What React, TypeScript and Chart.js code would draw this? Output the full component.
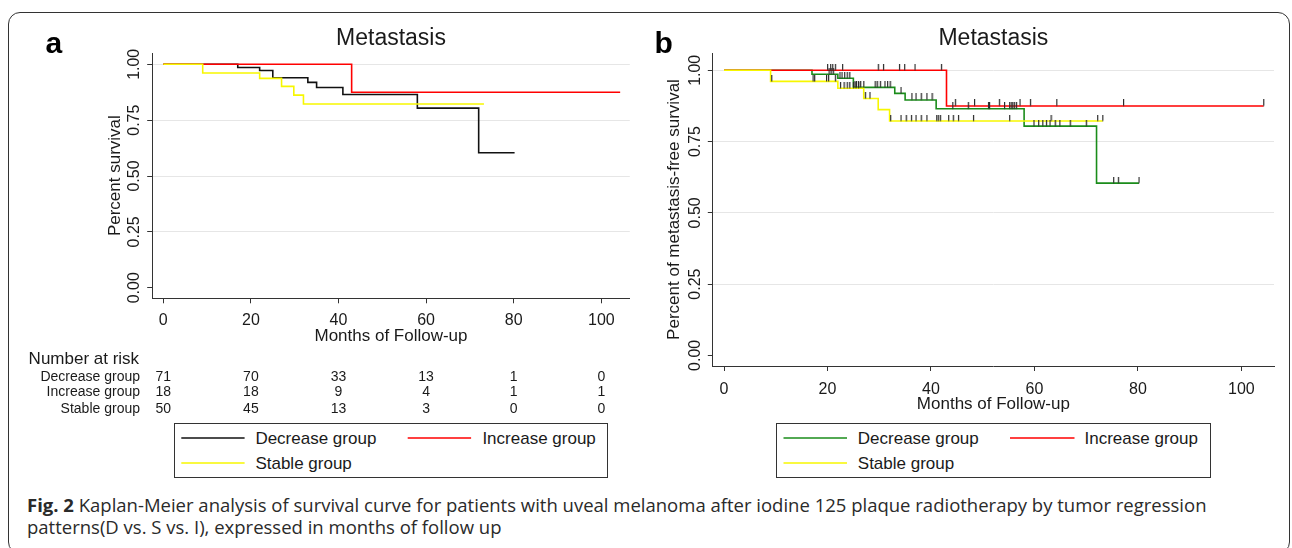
import React, { useEffect, useRef } from "react";
import { Chart, registerables } from "chart.js";

Chart.register(...registerables);

// ---------------- data ----------------
const xTicks = [0, 20, 40, 60, 80, 100];
const yTicks = [0, 0.25, 0.5, 0.75, 1];

const decreaseTimes = [0, 17.0, 22.0, 25.0, 33.0, 35.0, 41.0, 58.0, 72.0, 80.2];
const decreaseSurv = [1, 0.986, 0.972, 0.94, 0.919, 0.896, 0.865, 0.804, 0.604, 0.604];

const increaseTimes = [0, 43.0, 104.3];
const increaseSurv = [1, 0.875, 0.875];

const stableTimes = [0, 9.0, 22.0, 27.0, 29.8, 32.0, 73.2];
const stableSurv = [1, 0.961, 0.937, 0.901, 0.862, 0.822, 0.822];

const decreaseCensored = [20.3, 20.7, 21.1, 22.4, 22.8, 23.3, 23.8, 24.3, 25.3, 25.6, 26.0, 26.4, 27.0, 29.2, 29.6, 30.2, 31.1, 31.6, 32.1, 34.2, 36.3, 37.1, 38.1, 39.2, 40.2, 44.2, 47.2, 51.1, 51.3, 54.2, 55.2, 55.5, 55.8, 56.1, 56.5, 59.9, 60.8, 61.6, 62.3, 63.0, 64.0, 64.9, 66.9, 70.0, 75.3, 76.2, 80.2];
const increaseCensored = [20.0, 20.6, 21.0, 21.5, 22.9, 29.8, 30.8, 33.9, 34.9, 36.9, 42.0, 44.7, 48.4, 53.2, 57.2, 59.2, 64.3, 77.2, 104.3];
const stableCensored = [9.2, 17.2, 17.5, 19.8, 20.2, 21.5, 22.5, 23.2, 23.8, 24.3, 25.0, 25.5, 26.0, 27.3, 28.2, 32.2, 34.2, 35.2, 36.2, 37.1, 38.1, 39.2, 41.1, 41.4, 41.8, 43.4, 44.3, 45.3, 48.2, 55.2, 63.2, 72.2, 73.2];

const riskTimes = [0, 20, 40, 60, 80, 100];
const riskDecrease = [71, 70, 33, 13, 1, 0];
const riskIncrease = [18, 18, 9, 4, 1, 1];
const riskStable = [50, 45, 13, 3, 0, 0];

const groupNames = ["Decrease group", "Increase group", "Stable group"];

// ---------------- styles ----------------
const FONT = "'Liberation Sans', Arial, Helvetica, sans-serif";
const TEXT = "#1a1a1a";
const AXIS = "#333333";
const GRID = "#e6e6e6";
const RED = "#ff0000";
const YELLOW = "#f7f700";
const BLACK = "#111111";
const GREEN = "#1a8c1a";

function stepValue(times: number[], surv: number[], t: number) {
  let s = surv[0];
  for (let i = 0; i < times.length; i++) if (times[i] <= t) s = surv[i];
  return s;
}

function lineDs(times: number[], surv: number[], color: string) {
  return {
    data: times.map((t, i) => ({ x: t, y: surv[i] })),
    borderColor: color,
    borderWidth: 1.6,
    pointRadius: 0,
    pointHoverRadius: 0,
    stepped: "before",
    fill: false,
    tension: 0,
  };
}

function censorDs(cens: number[], times: number[], surv: number[], img: any) {
  return {
    data: cens.map((t) => ({ x: t, y: stepValue(times, surv, t) })),
    showLine: false,
    pointStyle: img,
    pointRadius: 3,
    pointHoverRadius: 3,
    borderColor: "#333",
    backgroundColor: "#333",
  };
}

type PanelCfg = {
  padLeft: number;
  padRight: number;
  padTop: number;
  padBottom: number;
  titlePadBottom: number;
  yWidth: number;
  xHeight: number;
  xMin: number;
  xMax: number;
  yMin: number;
  yMax: number;
  yTitle: string;
  xTickPad: number;
  yTickPad: number;
};

function makeOptions(p: PanelCfg) {
  return {
    responsive: false,
    animation: false,
    events: [],
    layout: { padding: { left: p.padLeft, right: p.padRight, top: p.padTop, bottom: p.padBottom } },
    plugins: {
      legend: { display: false },
      tooltip: { enabled: false },
      title: {
        display: true,
        text: "Metastasis",
        fullSize: false,
        color: TEXT,
        font: { family: FONT, size: 23, weight: "normal", lineHeight: 1.2 },
        padding: { top: 0, bottom: p.titlePadBottom },
      },
    },
    scales: {
      x: {
        type: "linear",
        min: p.xMin,
        max: p.xMax,
        afterBuildTicks: (s: any) => {
          s.ticks = xTicks.map((v) => ({ value: v }));
        },
        afterFit: (s: any) => {
          s.height = p.xHeight;
        },
        grid: { drawOnChartArea: false, drawTicks: true, tickLength: 5, tickColor: AXIS, tickWidth: 1 },
        border: { display: true, color: AXIS, width: 1 },
        ticks: {
          autoSkip: false,
          maxRotation: 0,
          minRotation: 0,
          padding: p.xTickPad,
          color: TEXT,
          font: { family: FONT, size: 16 },
          callback: (v: any) => String(v),
        },
        title: {
          display: true,
          text: "Months of Follow-up",
          color: TEXT,
          font: { family: FONT, size: 17, lineHeight: 1.2 },
          padding: 0,
        },
      },
      y: {
        type: "linear",
        min: p.yMin,
        max: p.yMax,
        afterBuildTicks: (s: any) => {
          s.ticks = yTicks.map((v) => ({ value: v }));
        },
        afterFit: (s: any) => {
          s.width = p.yWidth;
        },
        grid: {
          drawOnChartArea: true,
          drawTicks: true,
          tickLength: 5,
          tickColor: AXIS,
          tickWidth: 1,
          lineWidth: 1,
          color: (c: any) => (c.tick && c.tick.value === 0 ? "rgba(0,0,0,0)" : GRID),
        },
        border: { display: true, color: AXIS, width: 1 },
        ticks: {
          autoSkip: false,
          minRotation: 90,
          maxRotation: 90,
          crossAlign: "center",
          padding: p.yTickPad,
          color: TEXT,
          font: { family: FONT, size: 16 },
          callback: (v: any) => Number(v).toFixed(2),
        },
        title: {
          display: true,
          text: p.yTitle,
          color: TEXT,
          font: { family: FONT, size: 17, lineHeight: 1.2 },
          padding: 0,
        },
      },
    },
  };
}

function letterPlugin(letter: string, x: number) {
  return {
    id: "panelLetter" + letter,
    afterDraw(chart: any) {
      const ctx = chart.ctx;
      ctx.save();
      ctx.fillStyle = "#000";
      ctx.font = `bold 30px ${FONT}`;
      ctx.textAlign = "left";
      ctx.textBaseline = "alphabetic";
      ctx.fillText(letter, x, 53);
      ctx.restore();
    },
  };
}

const riskPlugin = {
  id: "riskTable",
  afterDraw(chart: any) {
    const ctx = chart.ctx;
    const xs = chart.scales.x;
    ctx.save();
    ctx.fillStyle = TEXT;
    ctx.textBaseline = "middle";
    ctx.font = `17px ${FONT}`;
    ctx.textAlign = "left";
    ctx.fillText("Number at risk", 28.6, 359.5);
    ctx.font = `14px ${FONT}`;
    const rows: [string, number[], number][] = [
      [groupNames[0], riskDecrease, 377],
      [groupNames[1], riskIncrease, 392.5],
      [groupNames[2], riskStable, 409],
    ];
    rows.forEach(([label, vals, y]) => {
      ctx.textAlign = "right";
      ctx.fillText(label, 140, y);
      ctx.textAlign = "center";
      riskTimes.forEach((t, i) => ctx.fillText(String(vals[i]), xs.getPixelForValue(t), y));
    });
    ctx.restore();
  },
};

type LegendLayout = { s1: number[]; t1: number; s2: number[]; t2: number };

function Legend({ left, width, first, L }: { left: number; width: number; first: string; L: LegendLayout }) {
  const top = 423;
  const text = (x: number, y: number, t: string) => (
    <div
      style={{
        position: "absolute",
        left: x - left - 1.5,
        top: y - top - 1.5 - 10,
        height: 20,
        lineHeight: "20px",
        fontSize: 17,
        fontFamily: FONT,
        color: TEXT,
        whiteSpace: "nowrap",
      }}
    >
      {t}
    </div>
  );
  return (
    <div
      style={{
        position: "absolute",
        left,
        top,
        width,
        height: 55,
        boxSizing: "border-box",
        border: `1.5px solid ${AXIS}`,
      }}
    >
      <svg
        width={width}
        height={55}
        style={{ position: "absolute", left: -1.5, top: -1.5, overflow: "visible" }}
      >
        <line x1={L.s1[0] - left} x2={L.s1[1] - left} y1={438 - top} y2={438 - top} stroke={first} strokeWidth={1.6} />
        <line x1={L.s2[0] - left} x2={L.s2[1] - left} y1={438 - top} y2={438 - top} stroke={RED} strokeWidth={1.6} />
        <line x1={L.s1[0] - left} x2={L.s1[1] - left} y1={463 - top} y2={463 - top} stroke={YELLOW} strokeWidth={1.6} />
      </svg>
      {text(L.t1, 439.5, groupNames[0])}
      {text(L.t2, 439.5, groupNames[1])}
      {text(L.t1, 464, groupNames[2])}
    </div>
  );
}

export default function App() {
  const refA = useRef<HTMLCanvasElement>(null);
  const refB = useRef<HTMLCanvasElement>(null);

  useEffect(() => {
    const tickImg = document.createElement("canvas");
    tickImg.width = 3;
    tickImg.height = 13;
    const tctx = tickImg.getContext("2d")!;
    tctx.fillStyle = "#2b2b2b";
    tctx.fillRect(1, 0, 1.2, 6.5);

    const cfgA: PanelCfg = {
      padLeft: 105.3,
      padRight: 10.2,
      padTop: 25.2,
      padBottom: 73.8,
      titlePadBottom: 0.2,
      yWidth: 46.9,
      xHeight: 47.9,
      xMin: -2.53,
      xMax: 106.5,
      yMin: -0.0474,
      yMax: 1.0506,
      yTitle: "Percent survival",
      xTickPad: 8,
      yTickPad: -3,
    };
    const cfgB: PanelCfg = {
      padLeft: 23.8,
      padRight: 18,
      padTop: 25.2,
      padBottom: 5.5,
      titlePadBottom: 0.2,
      yWidth: 49,
      xHeight: 48.5,
      xMin: -2.17,
      xMax: 106.3,
      yMin: -0.0375,
      yMax: 1.0607,
      yTitle: "Percent of metastasis-free survival",
      xTickPad: 9,
      yTickPad: -3,
    };

    const chartA = new Chart(refA.current!, {
      type: "line",
      data: {
        datasets: [
          lineDs(stableTimes, stableSurv, YELLOW),
          lineDs(increaseTimes, increaseSurv, RED),
          lineDs(decreaseTimes, decreaseSurv, BLACK),
        ] as any,
      },
      options: makeOptions(cfgA) as any,
      plugins: [riskPlugin, letterPlugin("a", 45.5)],
    });

    const chartB = new Chart(refB.current!, {
      type: "line",
      data: {
        datasets: [
          censorDs(stableCensored, stableTimes, stableSurv, tickImg),
          censorDs(increaseCensored, increaseTimes, increaseSurv, tickImg),
          censorDs(decreaseCensored, decreaseTimes, decreaseSurv, tickImg),
          lineDs(stableTimes, stableSurv, YELLOW),
          lineDs(increaseTimes, increaseSurv, RED),
          lineDs(decreaseTimes, decreaseSurv, GREEN),
        ] as any,
      },
      options: makeOptions(cfgB) as any,
      plugins: [letterPlugin("b", 14.5)],
    });

    return () => {
      chartA.destroy();
      chartB.destroy();
    };
  }, []);

  return (
    <div
      style={{
        position: "absolute",
        left: 0,
        top: 0,
        width: 1292,
        height: 548,
        overflow: "hidden",
        background: "#ffffff",
      }}
    >
      <div
        style={{
          position: "absolute",
          left: 8,
          top: 12,
          width: 1282,
          height: 542,
          boxSizing: "border-box",
          border: `1.5px solid ${AXIS}`,
          borderRadius: 12,
        }}
      />
      <canvas
        ref={refA}
        width={640}
        height={420}
        style={{ position: "absolute", left: 0, top: 0, width: 640, height: 420 }}
      />
      <canvas
        ref={refB}
        width={652}
        height={420}
        style={{ position: "absolute", left: 640, top: 0, width: 652, height: 420 }}
      />
      <Legend
        left={174.3}
        width={433.9}
        first={BLACK}
        L={{ s1: [181.6, 244.9], t1: 255.9, s2: [408, 471.4], t2: 482.9 }}
      />
      <Legend
        left={776}
        width={434.5}
        first={GREEN}
        L={{ s1: [783.5, 847], t1: 858.3, s2: [1010, 1074.5], t2: 1085 }}
      />
      <div
        style={{
          position: "absolute",
          left: 27,
          top: 494,
          fontFamily: "'Open Sans', 'Noto Sans', sans-serif",
          fontSize: 18.5,
          lineHeight: "22px",
          color: "#2a2a2a",
          whiteSpace: "nowrap",
        }}
      >
        <span style={{ fontWeight: 700 }}>Fig. 2</span> Kaplan-Meier analysis of survival curve for patients
        with uveal melanoma after iodine 125 plaque radiotherapy by tumor regression
        <br />
        patterns(D vs. S vs. I), expressed in months of follow up
      </div>
    </div>
  );
}
